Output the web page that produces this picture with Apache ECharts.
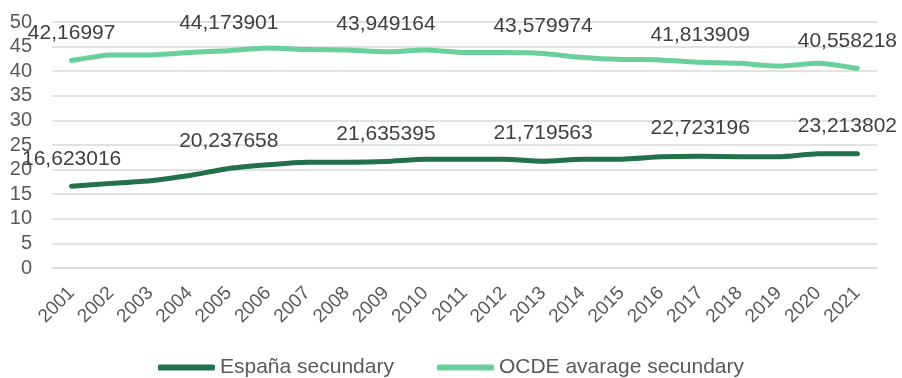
<!DOCTYPE html>
<html>
<head>
<meta charset="utf-8">
<script src="https://cdn.jsdelivr.net/npm/echarts@6/dist/echarts.min.js"></script>
<style>html,body{margin:0;padding:0;background:#fff;}#c{width:902px;height:378px;}</style>
</head>
<body>
<div id="c"></div>
<script>
const years = ['2001','2002','2003','2004','2005','2006','2007','2008','2009','2010','2011','2012','2013','2014','2015','2016','2017','2018','2019','2020','2021'];
const espana = [16.623016,17.2,17.75,18.8,20.237658,21.0,21.5,21.5,21.635395,22.1,22.1,22.1,21.719563,22.1,22.1,22.6,22.723196,22.6,22.6,23.2,23.213802];
const ocde = [42.16997,43.3,43.3,43.8,44.173901,44.7,44.4,44.3,43.949164,44.3,43.8,43.8,43.579974,42.8,42.4,42.3,41.813909,41.6,41.05,41.6,40.558218];
const labelledIdx = [0,4,8,12,16,20];
const yTicks = {min:0, max:50, interval:5};

const fontFam = '"Liberation Sans", Arial, sans-serif';
const txt = '#595959';

function toData(arr){
  return arr.map((v,i)=>{
    const show = labelledIdx.indexOf(i) >= 0;
    const item = {value:v};
    if(show){
      item.label = {show:true, formatter: String(v).replace('.', ',')};
      if(i === arr.length-1) item.label.offset = [-10,0];
    }
    return item;
  });
}

const chart = echarts.init(document.getElementById('c'), null, {renderer:'canvas'});
const lbl = {show:false, position:'top', distance:17, color:'#404040', fontSize:21, fontFamily:fontFam};
chart.setOption({
  animation:false,
  textStyle:{fontFamily:fontFam},
  grid:{left:52, right:25, top:22, bottom:110, containLabel:false},
  xAxis:{
    type:'category', data:years, boundaryGap:true,
    axisLine:{show:true, lineStyle:{color:'#d9d9d9', width:1.5}},
    axisTick:{show:false},
    axisLabel:{rotate:45, color:txt, fontSize:19, fontFamily:fontFam, margin:22, interval:0}
  },
  yAxis:{
    type:'value', min:yTicks.min, max:yTicks.max, interval:yTicks.interval,
    axisLine:{show:false}, axisTick:{show:false},
    axisLabel:{color:txt, fontSize:20, fontFamily:fontFam, margin:20},
    splitLine:{lineStyle:{color:'#d9d9d9', width:1.5}}
  },
  legend:{
    top:352, left:'center',
    itemGap:43, itemWidth:57, itemHeight:6, icon:'roundRect',
    textStyle:{color:txt, fontSize:21, fontFamily:fontFam},
    data:['España secundary','OCDE avarage secundary']
  },
  series:[
    {name:'España secundary', type:'line', data:toData(espana), smooth:0.2,
     symbol:'circle', symbolSize:0, showSymbol:true,
     lineStyle:{color:'#23714a', width:5, cap:'round', join:'round'},
     itemStyle:{color:'#23714a'},
     label:lbl, emphasis:{disabled:true}},
    {name:'OCDE avarage secundary', type:'line', data:toData(ocde), smooth:0.2,
     symbol:'circle', symbolSize:0, showSymbol:true,
     lineStyle:{color:'#69cf9b', width:5, cap:'round', join:'round'},
     itemStyle:{color:'#69cf9b'},
     label:lbl, emphasis:{disabled:true}}
  ]
});
</script>
</body>
</html>
